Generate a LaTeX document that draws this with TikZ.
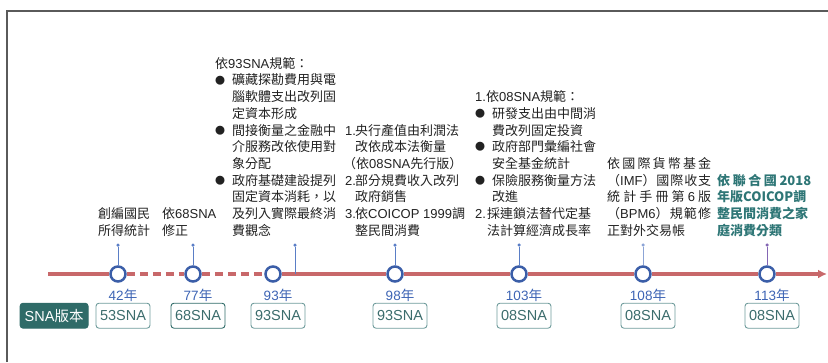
\documentclass[tikz,border=0pt]{standalone}
\usepackage{fontspec}
\setmainfont{Noto Sans CJK TC}
\newfontfamily\latinfont{Liberation Sans}
\usetikzlibrary{positioning, arrows.meta}

\definecolor{LineRed}{HTML}{C8686A}
\definecolor{NodeBlue}{HTML}{3B5EA8}
\definecolor{StemBlue}{HTML}{5A7EC6}
\definecolor{StemLight}{HTML}{8CA4D6}
\definecolor{StemPurple}{HTML}{8466B4}
\definecolor{YearBlue}{HTML}{3D64B4}
\definecolor{BoxTeal}{HTML}{6E9B9B}
\definecolor{BoxText}{HTML}{3B6C6C}
\definecolor{LabelTeal}{HTML}{2F6B68}
\definecolor{NoteTeal}{HTML}{2E7676}
\definecolor{FrameGray}{HTML}{5A5A5A}
\definecolor{TextBlack}{HTML}{222222}

\newcommand{\lat}[1]{{\latinfont #1}}
\newcommand{\bul}{\makebox[17pt][l]{\raisebox{0.9pt}{\fontsize{10}{10}\selectfont ●}}}
\newcommand{\ind}[1]{\hspace*{#1}}
\newcommand{\spreadline}[2]{\makebox[#1][s]{#2}}

\tikzset{
  timeline/.style={LineRed, line width=3.5pt},
  yearnode/.style={circle, draw=NodeBlue, fill=white, line width=2.5pt, minimum size=15pt, inner sep=0pt},
  stemdot/.style={circle, fill=#1, minimum size=3.5pt, inner sep=0pt},
  stemline/.style={#1, line width=0.9pt},
  yearlbl/.style={text=YearBlue, font=\fontsize{13.5}{13.5}\selectfont, inner sep=0pt},
  snabox/.style={draw=#1, text=BoxText, rounded corners=3pt, line width=0.9pt, minimum width=54pt, minimum height=25pt, inner sep=0pt, font=\fontsize{14.5}{14.5}\selectfont\latinfont},
  notetext/.style={text=TextBlack, align=left, inner sep=0pt, anchor=north west, font=\fontsize{13}{16.7}\selectfont},
}

\begin{document}
\begin{tikzpicture}[x=1pt, y=-1pt]

\useasboundingbox (0,0) rectangle (828,362);
\draw[FrameGray, line width=1.5pt] (7,362) -- (7,11) -- (828,11);

\coordinate (tlstart) at (48,274);
\coordinate (tlend) at (827,274);
\coordinate (t93) at (295,274);

\foreach \yr/\xpos in {42/118, 77/193, 93/273, 98/395, 103/519, 108/643, 113/767}
  \node[yearnode] (c\yr) at (\xpos,274) {};

% timeline segments
\draw[timeline] (tlstart) -- (c42);
\draw[timeline, dash pattern=on 8pt off 5pt] (c42) -- (c77);
\draw[timeline, dash pattern=on 8pt off 5pt] (c77) -- (c93);
\draw[timeline] (c93) -- (c98);
\draw[timeline] (c98) -- (c103);
\draw[timeline] (c103) -- (c108);
\draw[timeline] (c108) -- (c113);
\draw[timeline, -{Latex[length=9pt,width=9pt]}] (c113) -- (tlend);

\foreach \yr in {42,77,93,98,103,108,113}
  \node[yearlbl, below=6pt of c\yr, xshift=5pt] (y\yr) {\lat{\yr}年};

\foreach \yr/\sna/\bc in {42/53/BoxTeal, 77/68/LabelTeal, 93/93/BoxTeal, 98/93/BoxTeal, 103/08/BoxTeal, 108/08/BoxTeal, 113/08/BoxTeal}
  \node[snabox=\bc, below=20pt of c\yr, xshift=5pt] (b\yr) {\sna SNA};

\node[snabox=LabelTeal, fill=LabelTeal, text=white, minimum width=68pt, left=7pt of b42, font=\fontsize{14.5}{14.5}\selectfont] (lbl) {\lat{SNA}版本};

% stems
\foreach \yr/\xpos/\sc in {42/118/StemBlue, 77/193/StemBlue, 98/395/StemBlue, 103/519/StemBlue, 108/643/StemLight, 113/767/StemPurple} {
  \node[stemdot=\sc] (s\yr) at (\xpos,245) {};
  \draw[stemline=\sc] (s\yr) -- (c\yr);
}
\node[stemdot=StemBlue] (s93) at (295,245) {};
\draw[stemline=StemBlue] (s93) -- (t93);

% notes
\node[notetext] (n42) at (98,207.3) {創編國民\\所得統計};
\node[notetext] (n77) at (162,207.3) {依\lat{68SNA}\\修正};

\node[notetext] (n93) at (215,57) {依\lat{93SNA}規範：\\
\bul 礦藏探勘費用與電\\
\ind{17pt}腦軟體支出改列固\\
\ind{17pt}定資本形成\\
\bul 間接衡量之金融中\\
\ind{17pt}介服務改依使用對\\
\ind{17pt}象分配\\
\bul 政府基礎建設提列\\
\ind{17pt}固定資本消耗，以\\
\ind{17pt}及列入實際最終消\\
\ind{17pt}費觀念};

\node[notetext] (n98) at (345,123.8) {\makebox[10pt][l]{\lat{1.}}央行產值由利潤法\\
\ind{10pt}改依成本法衡量\\
\ind{-2pt}（依\lat{08SNA}先行版）\\
\makebox[10pt][l]{\lat{2.}}部分規費收入改列\\
\ind{10pt}政府銷售\\
\makebox[10pt][l]{\lat{3.}}依\lat{COICOP 1999}調\\
\ind{10pt}整民間消費};

\node[notetext] (n103) at (475,90.4) {\lat{1.}依\lat{08SNA}規範：\\
\bul 研發支出由中間消\\
\ind{17pt}費改列固定投資\\
\bul 政府部門彙編社會\\
\ind{17pt}安全基金統計\\
\bul 保險服務衡量方法\\
\ind{17pt}改進\\
\makebox[12pt][l]{\lat{2.}}採連鎖法替代定基\\
\ind{12pt}法計算經濟成長率};

\node[notetext] (n108) at (607,157.2) {\spreadline{104pt}{依\hfill 國\hfill 際\hfill 貨\hfill 幣\hfill 基\hfill 金}\\
\spreadline{104pt}{（\lat{IMF}）\hfill 國\hfill 際\hfill 收\hfill 支}\\
\spreadline{104pt}{統\hfill 計\hfill 手\hfill 冊\hfill 第\hfill \lat{6}\hfill 版}\\
\spreadline{104pt}{（\lat{BPM6}）\hfill 規\hfill 範\hfill 修}\\
正對外交易帳};

\node[notetext, text=NoteTeal, font=\fontsize{13}{16.7}\selectfont\bfseries] (n113) at (717,173.9) {\spreadline{94pt}{依\hfill 聯\hfill 合\hfill 國\hfill 2018}\\
年版COICOP調\\
整民間消費之家\\
庭消費分類};

\end{tikzpicture}
\end{document}
